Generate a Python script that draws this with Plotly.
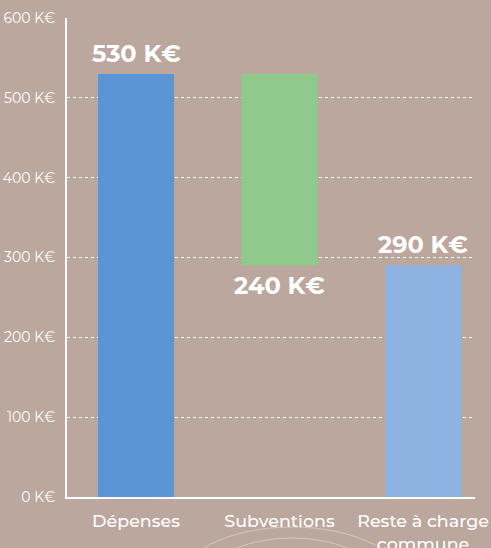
import plotly.graph_objects as go

categories = ["Dépenses", "Subventions", "Reste à charge<br>commune"]
bar_tops = [530, 530, 290]
bar_bases = [0, 290, 0]
value_labels = ["530 K€", "240 K€", "290 K€"]
bar_colors = ["#5C95D6", "#8FC98B", "#8EB2E2"]
tick_vals = [0, 100, 200, 300, 400, 500, 600]
tick_text = ["0 K€", "100 K€", "200 K€", "300 K€", "400 K€", "500 K€", "600 K€"]

heights = [t - b for t, b in zip(bar_tops, bar_bases)]
bg = "#BBA79D"

fig = go.Figure()
fig.add_trace(go.Bar(
    x=categories, y=heights, base=bar_bases,
    marker=dict(color=bar_colors, line=dict(width=0)),
    width=0.53, hoverinfo="skip",
))

font_family = "Montserrat, Lato, 'Open Sans', sans-serif"
for i, (cat, lab) in enumerate(zip(categories, value_labels)):
    below = i == 1
    fig.add_annotation(
        x=cat, y=bar_bases[i] if below else bar_tops[i],
        text=f"<b>{lab}</b>", showarrow=False,
        yanchor="top" if below else "bottom",
        yshift=-4 if below else 4,
        font=dict(family=font_family, size=24, color="white"),
    )

# faint decorative arcs below the axis
W_PLOT, H_PLOT, L, B = 408.0, 479.0, 67.0, 497.0
def px_x(v):
    return (v - L) / W_PLOT
def px_y(v):
    return (B - v) / H_PLOT
for (x0, x1, y0, y1) in [(176, 408, 527, 647), (200, 384, 538, 638)]:
    fig.add_shape(
        type="circle", xref="paper", yref="paper",
        x0=px_x(x0), x1=px_x(x1), y0=px_y(y1), y1=px_y(y0),
        line=dict(color="rgba(255,255,255,0.35)", width=1), layer="below",
    )

fig.update_layout(
    width=491, height=548,
    paper_bgcolor=bg, plot_bgcolor=bg,
    margin=dict(l=67, r=16, t=18, b=51),
    showlegend=False,
    font=dict(family=font_family, color="white"),
)
fig.update_xaxes(
    range=[-0.481, 2.362],
    showgrid=False, showline=True, linecolor="white", linewidth=2,
    ticks="", tickfont=dict(size=17.5, color="white", weight=500),
    automargin=False, ticklabelstandoff=7,
)
fig.update_yaxes(
    range=[0, 600], tickvals=tick_vals, ticktext=tick_text,
    showgrid=True, gridcolor="white", griddash="dot", gridwidth=1,
    showline=True, linecolor="white", linewidth=2, zeroline=False,
    ticks="", tickfont=dict(size=14, color="white"),
    automargin=False, ticklabelstandoff=7,
)
fig.write_html(
    "out.html",
    config={"displayModeBar": False},
    post_script=f"document.body.style.margin='0';document.body.style.background='{bg}';document.body.style.overflow='hidden';",
)
